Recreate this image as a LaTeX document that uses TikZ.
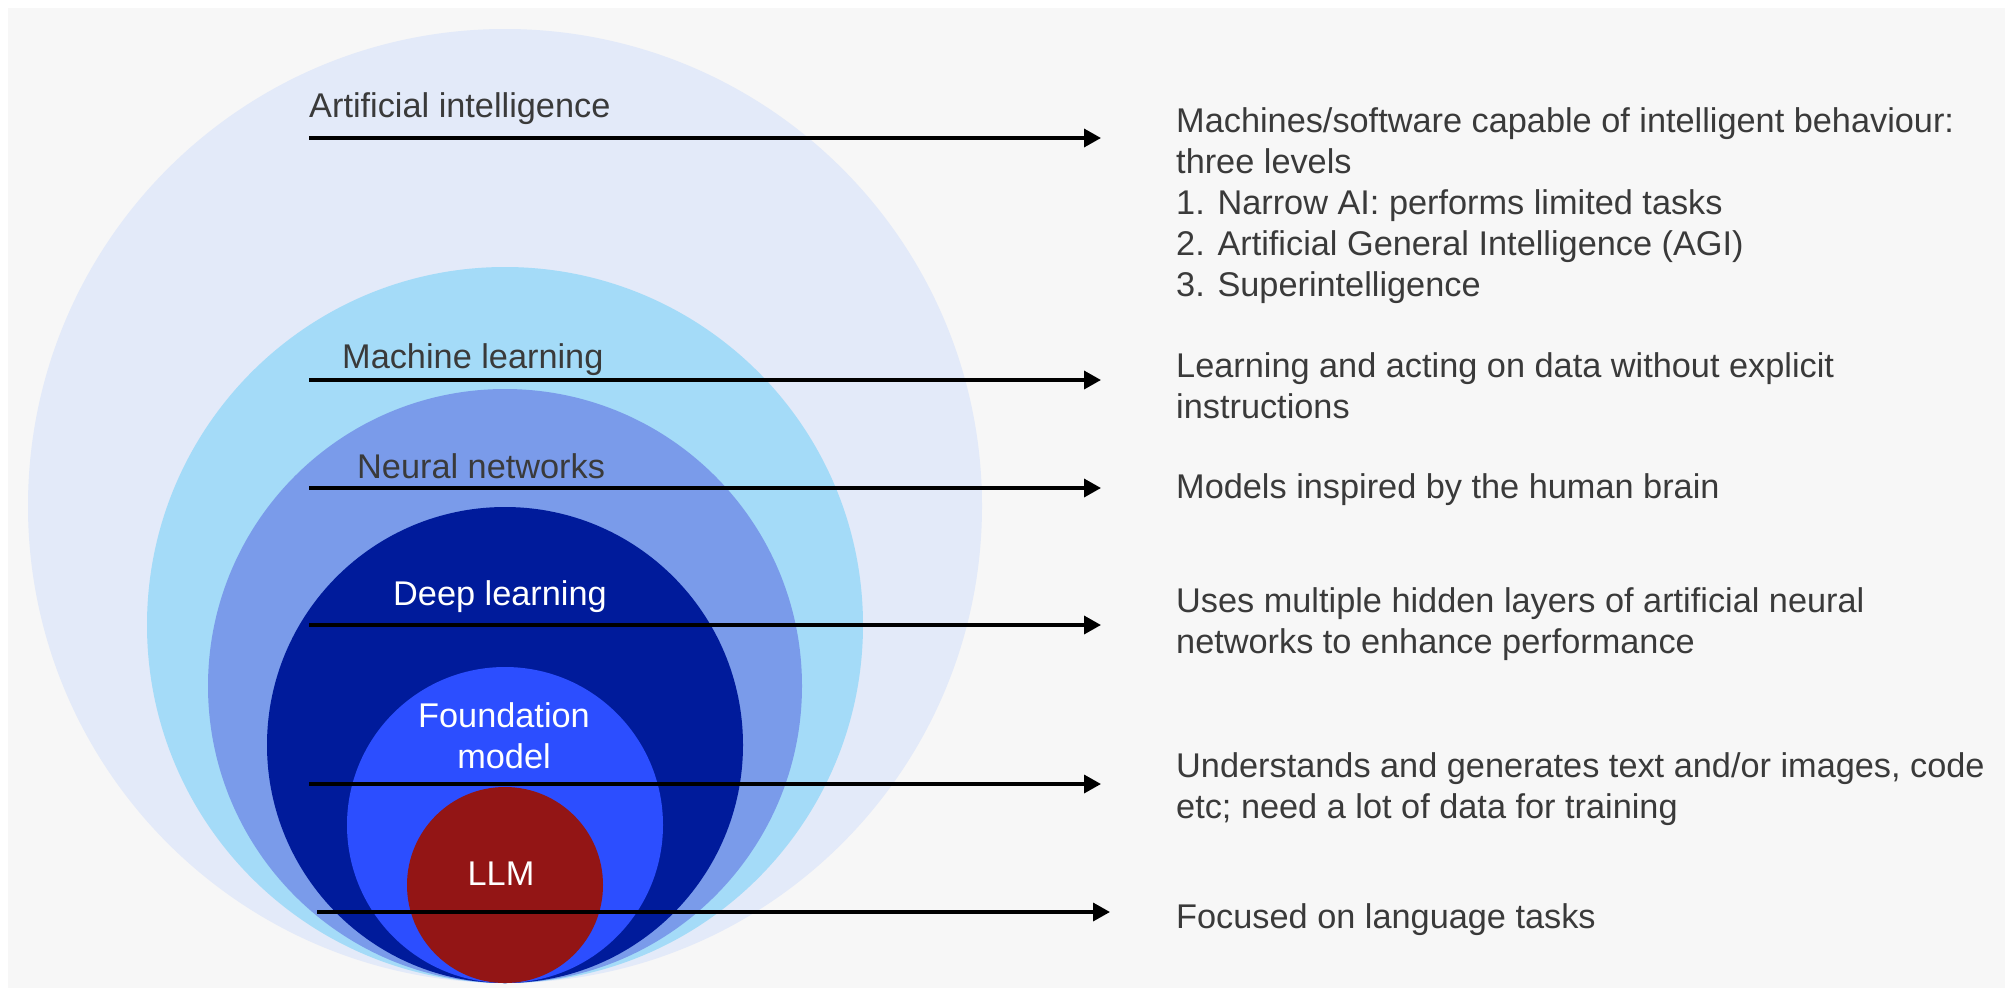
\documentclass[tikz,border=0pt]{standalone}
\usepackage{fontspec}
\setmainfont{Liberation Sans}
\usetikzlibrary{arrows.meta}
\definecolor{bggray}{HTML}{F7F7F7}
\definecolor{txtgray}{HTML}{3A3A3A}
\definecolor{aicol}{HTML}{E3EAF9}
\definecolor{mlcol}{HTML}{A4DBF8}
\definecolor{nncol}{HTML}{7A9BEA}
\definecolor{dlcol}{HTML}{001B9B}
\definecolor{fmcol}{HTML}{2C4EFF}
\definecolor{llmcol}{HTML}{931515}
\tikzset{
  lbl/.style={font=\fontsize{34.3}{41}\selectfont, text=txtgray, inner sep=0pt},
  wlbl/.style={lbl, text=white, align=center},
  desc/.style={lbl, align=left, anchor=base west},
  pointer/.style={line width=3.5pt, -{Triangle[length=17pt,width=18pt]}}
}
\begin{document}
\begin{tikzpicture}[x=1pt,y=-1pt]
      \useasboundingbox (0,0) rectangle (2005,988);
      \fill[white] (0,0) rectangle (2005,988);
      \fill[bggray] (8,8) rectangle (2005,988);
      % nested circles, all touching at the bottom
      \fill[aicol] (505,506) circle (477pt);
      \fill[mlcol] (505,625) circle (358pt);
      \fill[nncol] (505,686) circle (297pt);
      \fill[dlcol] (505,745) circle (238pt);
      \fill[fmcol] (505,825) circle (158pt);
      \fill[llmcol] (505,885) circle (98pt);
      \draw
        (309,117) node[lbl, anchor=base west] (ai){Artificial intelligence}
        (342,368) node[lbl, anchor=base west] (ml){Machine learning}
        (357,478) node[lbl, anchor=base west] (nn){Neural networks}
        (500,605) node[wlbl, anchor=base] (dl){Deep learning}
        (504,768) node[wlbl, anchor=base] (fm){Foundation\\model}
        (501,885) node[wlbl, anchor=base] (llm){LLM};
      % base anchor of a multi-line node sits on its last line
      \draw
        (1176,296) node[desc] (aid){Machines/software capable of intelligent behaviour:\\three levels\\1. Narrow AI: performs limited tasks\\2. Artificial General Intelligence (AGI)\\3. Superintelligence}
        (1176,418) node[desc] (mld){Learning and acting on data without explicit\\instructions}
        (1176,498) node[desc] (nnd){Models inspired by the human brain}
        (1176,653) node[desc] (dld){Uses multiple hidden layers of artificial neural\\networks to enhance performance}
        (1176,818) node[desc] (fmd){Understands and generates text and/or images, code\\etc; need a lot of data for training}
        (1176,928) node[desc] (llmd){Focused on language tasks};
      \coordinate (ai1) at (309,138);   \coordinate (ai2) at (1101,138);
      \coordinate (ml1) at (309,380);   \coordinate (ml2) at (1101,380);
      \coordinate (nn1) at (309,488);   \coordinate (nn2) at (1101,488);
      \coordinate (dl1) at (309,625);   \coordinate (dl2) at (1101,625);
      \coordinate (fm1) at (309,784);   \coordinate (fm2) at (1101,784);
      \coordinate (llm1) at (317,912);  \coordinate (llm2) at (1110,912);
      \begin{scope}[pointer]
        \draw (ai1) to (ai2);
        \draw (ml1) to (ml2);
        \draw (nn1) to (nn2);
        \draw (dl1) to (dl2);
        \draw (fm1) to (fm2);
        \draw (llm1) to (llm2);
      \end{scope}
    \end{tikzpicture}
\end{document}
